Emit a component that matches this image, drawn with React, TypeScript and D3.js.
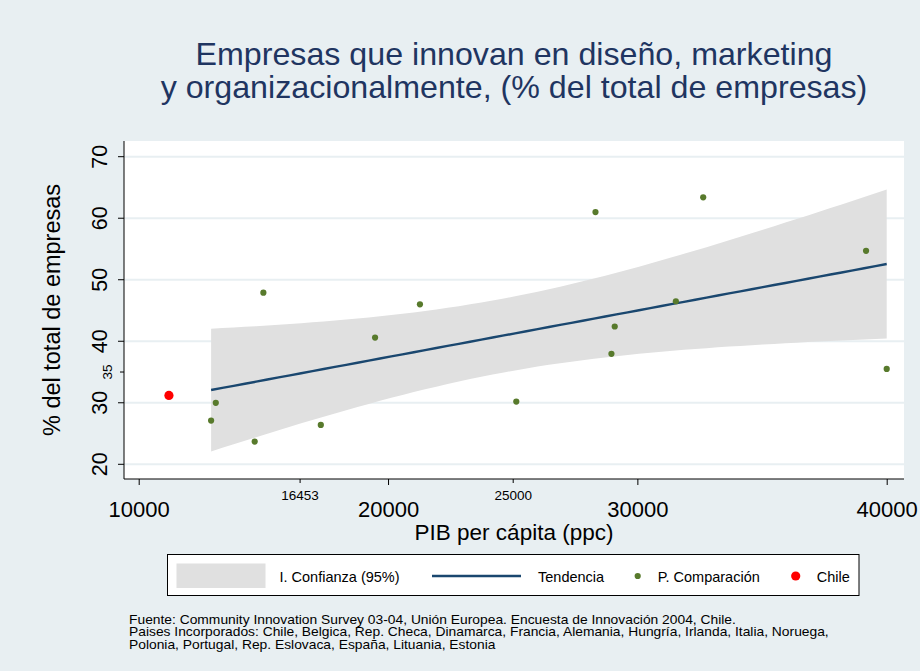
import React from 'react';
import * as d3 from 'd3';

const width = 920;
const height = 671;

const titleLines = ['Empresas que innovan en diseño, marketing', 'y organizacionalmente, (% del total de empresas)'];
const xTitle = 'PIB per cápita (ppc)';
const yTitle = '% del total de empresas';

// paises de comparacion: PIB per capita (ppc) y % de empresas
const compGdp = [12884, 13072, 14632, 14980, 17284, 19460, 21260, 25124, 28300, 28940, 29072, 31524, 32620, 39152, 39980];
const compPct = [27.1, 30.0, 23.7, 47.9, 26.4, 40.6, 46.0, 30.2, 61.0, 37.95, 42.4, 46.5, 63.4, 54.7, 35.5];

const chileGdp = [11192];
const chilePct = [31.2];

const xTicks = [10000, 20000, 30000, 40000];
const xMinorTicks = [16453, 25000];
const yTicks = [20, 30, 40, 50, 60, 70];
const yMinorTicks = [35];

const legendLabels = ['I. Confianza (95%)', 'Tendencia', 'P. Comparación', 'Chile'];

const notes = [
  'Fuente: Community Innovation Survey 03-04, Unión Europea. Encuesta de Innovación 2004, Chile.',
  'Paises Incorporados: Chile, Belgica, Rep. Checa, Dinamarca, Francia, Alemania, Hungría, Irlanda, Italia, Noruega,',
  'Polonia, Portugal, Rep. Eslovaca, España, Lituania, Estonia',
];

const bg = '#e8eff2';
const navy = '#1a476f';
const green = '#587a2c';
const font = "'Liberation Sans', Arial, sans-serif";

const plot = { left: 124, right: 904, top: 141, bottom: 479 };

const xScale = d3.scaleLinear().domain([10000, 40000]).range([139.2, 887.2]);
const yScale = d3.scaleLinear().domain([20, 70]).range([464.3, 156.7]);

// linear fit with 95% confidence interval (like Stata lfitci)
const n = compGdp.length;
const mx = d3.mean(compGdp) as number;
const my = d3.mean(compPct) as number;
const sxx = d3.sum(compGdp, (x) => (x - mx) ** 2);
const sxy = d3.sum(compGdp, (x, i) => (x - mx) * (compPct[i] - my));
const slope = sxy / sxx;
const icpt = my - slope * mx;
const sse = d3.sum(compGdp, (x, i) => (compPct[i] - (icpt + slope * x)) ** 2);
const se = Math.sqrt(sse / (n - 2));
const tCrit = 2.16; // t(0.975, 13)
const [xLo, xHi] = d3.extent(compGdp) as [number, number];
const fitX = d3.range(0, 61).map((i) => xLo + ((xHi - xLo) * i) / 60);
const fit = fitX.map((x) => {
  const yh = icpt + slope * x;
  const h = tCrit * se * Math.sqrt(1 / n + (x - mx) ** 2 / sxx);
  return { x, y: yh, lo: yh - h, hi: yh + h };
});

const area = d3.area<any>().x((d) => xScale(d.x)).y0((d) => yScale(d.lo)).y1((d) => yScale(d.hi));
const line = d3.line<any>().x((d) => xScale(d.x)).y((d) => yScale(d.y));

export default function App() {
  return (
    <div style={{ position: 'absolute', left: 0, top: 0 }}>
      <svg width={width} height={height} style={{ display: 'block', fontFamily: font }}>
        <rect x={0} y={0} width={width} height={height} fill={bg} />
        {titleLines.map((t, i) => (
          <text key={t} x={514} y={65 + i * 33} textAnchor="middle" fontSize={32.2} fill="#1f3561">{t}</text>
        ))}

        <rect x={plot.left} y={plot.top} width={plot.right - plot.left} height={plot.bottom - plot.top} fill="#fff" />
        {yTicks.map((v) => (
          <line key={v} x1={plot.left} x2={plot.right} y1={yScale(v)} y2={yScale(v)} stroke={bg} strokeWidth={2} />
        ))}

        <path d={area(fit) as string} fill="#e0e0e0" />
        <path d={line(fit) as string} fill="none" stroke={navy} strokeWidth={2.4} />

        {compGdp.map((x, i) => (
          <circle key={i} cx={xScale(x)} cy={yScale(compPct[i])} r={3.1} fill={green} />
        ))}
        {chileGdp.map((x, i) => (
          <circle key={i} cx={xScale(x)} cy={yScale(chilePct[i])} r={4.6} fill="#ff0000" />
        ))}

        {/* ejes */}
        <line x1={plot.left} x2={plot.left} y1={plot.top} y2={plot.bottom} stroke="#000" strokeWidth={1} />
        <line x1={plot.left} x2={plot.right} y1={plot.bottom} y2={plot.bottom} stroke="#000" strokeWidth={1} />
        {yTicks.map((v) => (
          <g key={v}>
            <line x1={plot.left - 6} x2={plot.left} y1={yScale(v)} y2={yScale(v)} stroke="#000" />
            <text transform={`translate(106.5,${yScale(v)}) rotate(-90)`} textAnchor="middle" fontSize={21.5}>{v}</text>
          </g>
        ))}
        {yMinorTicks.map((v) => (
          <g key={v}>
            <line x1={plot.left - 4} x2={plot.left} y1={yScale(v)} y2={yScale(v)} stroke="#000" />
            <text transform={`translate(112,${yScale(v)}) rotate(-90)`} textAnchor="middle" fontSize={13.5}>{v}</text>
          </g>
        ))}
        {xTicks.map((v) => (
          <g key={v}>
            <line x1={xScale(v)} x2={xScale(v)} y1={plot.bottom} y2={plot.bottom + 6} stroke="#000" />
            <text x={xScale(v)} y={517} textAnchor="middle" fontSize={22}>{v}</text>
          </g>
        ))}
        {xMinorTicks.map((v) => (
          <g key={v}>
            <line x1={xScale(v)} x2={xScale(v)} y1={plot.bottom} y2={plot.bottom + 4} stroke="#000" />
            <text x={xScale(v)} y={500} textAnchor="middle" fontSize={13.5}>{v}</text>
          </g>
        ))}
        <text x={514} y={540} textAnchor="middle" fontSize={22.5}>{xTitle}</text>
        <text transform={`translate(60,310) rotate(-90)`} textAnchor="middle" fontSize={23.5}>{yTitle}</text>

        {/* leyenda */}
        <rect x={167.5} y={554.5} width={691.5} height={41} fill="#fff" stroke="#000" strokeWidth={1} />
        <rect x={176.5} y={563.5} width={89} height={24.5} fill="#e0e0e0" />
        <text x={279.5} y={581.5} fontSize={14.5}>{legendLabels[0]}</text>
        <line x1={432} x2={521} y1={576} y2={576} stroke={navy} strokeWidth={2.4} />
        <text x={538} y={581.5} fontSize={14.5}>{legendLabels[1]}</text>
        <circle cx={637.7} cy={576} r={3.1} fill={green} />
        <text x={657.7} y={581.5} fontSize={14.5}>{legendLabels[2]}</text>
        <circle cx={795.7} cy={576} r={4.6} fill="#ff0000" />
        <text x={816.7} y={581.5} fontSize={14.5}>{legendLabels[3]}</text>

        {notes.map((t, i) => (
          <text key={i} transform={`translate(129,${624 + i * 12.3}) scale(1.115,1)`} fontSize={12.4}>{t}</text>
        ))}
      </svg>
    </div>
  );
}
